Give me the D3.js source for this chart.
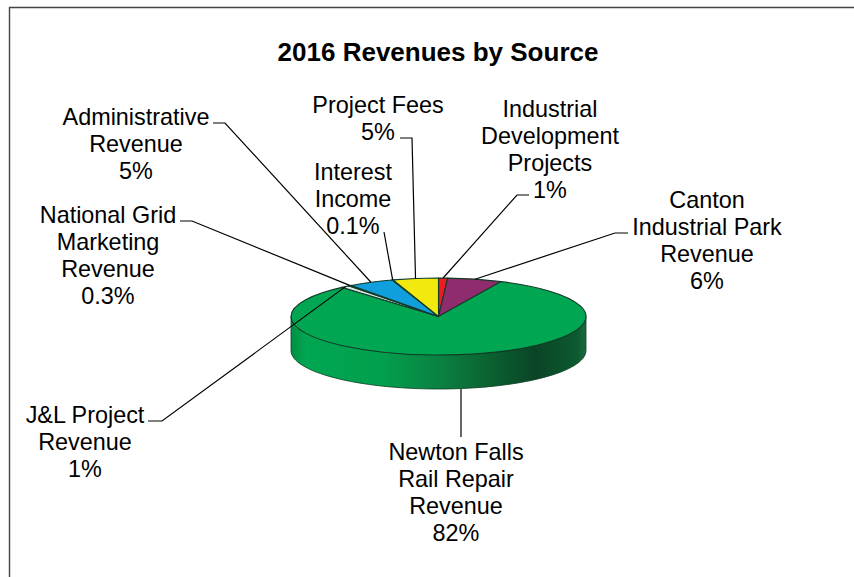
<!DOCTYPE html>
<html>
<head>
<meta charset="utf-8">
<script src="https://cdn.jsdelivr.net/npm/d3@7"></script>
<style>
body { margin: 0; background: #fff; }
text { font-family: "Liberation Sans", Arial, sans-serif; }
</style>
</head>
<body>
<script>
const title = "2016 Revenues by Source";

// clockwise from 12 o'clock
const sources = ["Industrial Development Projects", "Canton Industrial Park Revenue", "Newton Falls Rail Repair Revenue",
    "J&L Project Revenue", "National Grid Marketing Revenue", "Administrative Revenue", "Interest Income", "Project Fees"];
const values = [1, 6, 82, 1, 0.3, 5, 0.1, 5];
const colors = ["#ed1c24", "#8e2c6e", "#00a651", "#d5ece8", "#ffffff", "#0f9fdc", "#9fb8c8", "#f2ea0e"];

// label lines as drawn, one list per slice
const labelLines = [
    ["Industrial", "Development", "Projects", "1%"],
    ["Canton", "Industrial Park", "Revenue", "6%"],
    ["Newton Falls", "Rail Repair", "Revenue", "82%"],
    ["J&L Project", "Revenue", "1%"],
    ["National Grid", "Marketing", "Revenue", "0.3%"],
    ["Administrative", "Revenue", "5%"],
    ["Interest", "Income", "0.1%"],
    ["Project Fees", "5%"]
];
const labelX = [550, 707, 456, 85, 108, 136, 353, 378];
const labelY = [117, 208, 460, 423, 223, 125, 180, 113];
// leader: start, elbow
const leaderStart = [[529, 195], [628, 233], [461, 389], [148, 421], [180, 221], [213, 123], [384, 232], [400, 138]];
const leaderElbow = [[517, 195], [615, 233], [461, 437], [162, 421], [192, 221], [225, 123], [384, 232], [412, 138]];

const width = 854;
const height = 577;
const cx = 438.5, cy = 316.5, rx = 147.5, ry = 38.5, depth = 34;

const svg = d3.select("body").append("svg")
    .attr("width", width)
    .attr("height", height)
    .style("display", "block");

// chart frame, open at the bottom and running off to the right
svg.append("path")
    .attr("d", "M9.5,577V7.5H854")
    .attr("fill", "none")
    .attr("stroke", "#444")
    .attr("stroke-width", 1.4);

svg.append("text")
    .attr("x", 438)
    .attr("y", 61)
    .attr("text-anchor", "middle")
    .attr("font-size", 26)
    .attr("font-weight", "bold")
    .attr("fill", "#000")
    .text(title);

const defs = svg.append("defs");
const grad = defs.append("linearGradient").attr("id", "side");
[[0, "#008f45"], [0.05, "#00a651"], [0.3, "#02a04e"], [0.52, "#0a7f40"], [0.68, "#0b6030"], [0.83, "#0a4526"], [0.97, "#0c5a30"], [1, "#1a6a40"]]
    .forEach(s => grad.append("stop").attr("offset", s[0]).attr("stop-color", s[1]));

// side wall of the disc
const wall = d3.path();
wall.moveTo(cx - rx, cy);
wall.lineTo(cx - rx, cy + depth);
wall.bezierCurveTo(cx - rx, cy + depth + ry * 0.552, cx - rx * 0.552, cy + depth + ry, cx, cy + depth + ry);
wall.bezierCurveTo(cx + rx * 0.552, cy + depth + ry, cx + rx, cy + depth + ry * 0.552, cx + rx, cy + depth);
wall.lineTo(cx + rx, cy);
wall.closePath();
svg.append("path")
    .attr("d", wall.toString())
    .attr("fill", "url(#side)")
    .attr("stroke", "#0b3d22")
    .attr("stroke-width", 0.8);

// top face: a flat pie squashed into an ellipse
const pie = d3.pie().sort(null).value(d => d)(values);
const arc = d3.arc().innerRadius(0).outerRadius(rx);
const topFace = svg.append("g")
    .attr("transform", `translate(${cx},${cy}) scale(1,${ry / rx})`);
topFace.selectAll("path")
    .data(pie)
    .join("path")
    .attr("d", arc)
    .attr("fill", (d, i) => colors[i])
    .attr("stroke", "#123a26")
    .attr("stroke-width", 1.1)
    .attr("vector-effect", "non-scaling-stroke");

// leader lines end on the rim at each slice's mid angle
const rim = d => {
    const a = (d.startAngle + d.endAngle) / 2;
    return [cx + rx * Math.sin(a), cy - ry * Math.cos(a)];
};
const leader = d3.line();
svg.append("g").selectAll("path")
    .data(pie)
    .join("path")
    .attr("d", (d, i) => leader(i === 2
        ? [leaderStart[i], leaderElbow[i]]
        : [leaderStart[i], leaderElbow[i], rim(d)]))
    .attr("fill", "none")
    .attr("stroke", "#000")
    .attr("stroke-width", 1.2);

const labels = svg.append("g").selectAll("text")
    .data(labelLines)
    .join("text")
    .attr("text-anchor", "middle")
    .attr("font-size", 23.4)
    .attr("fill", "#000");
labels.selectAll("tspan")
    .data((d, i) => d.map(t => ({ t, i })))
    .join("tspan")
    .attr("x", d => labelX[d.i])
    .attr("y", (d, j) => labelY[d.i] + j * 27)
    .text(d => d.t);
</script>
</body>
</html>
